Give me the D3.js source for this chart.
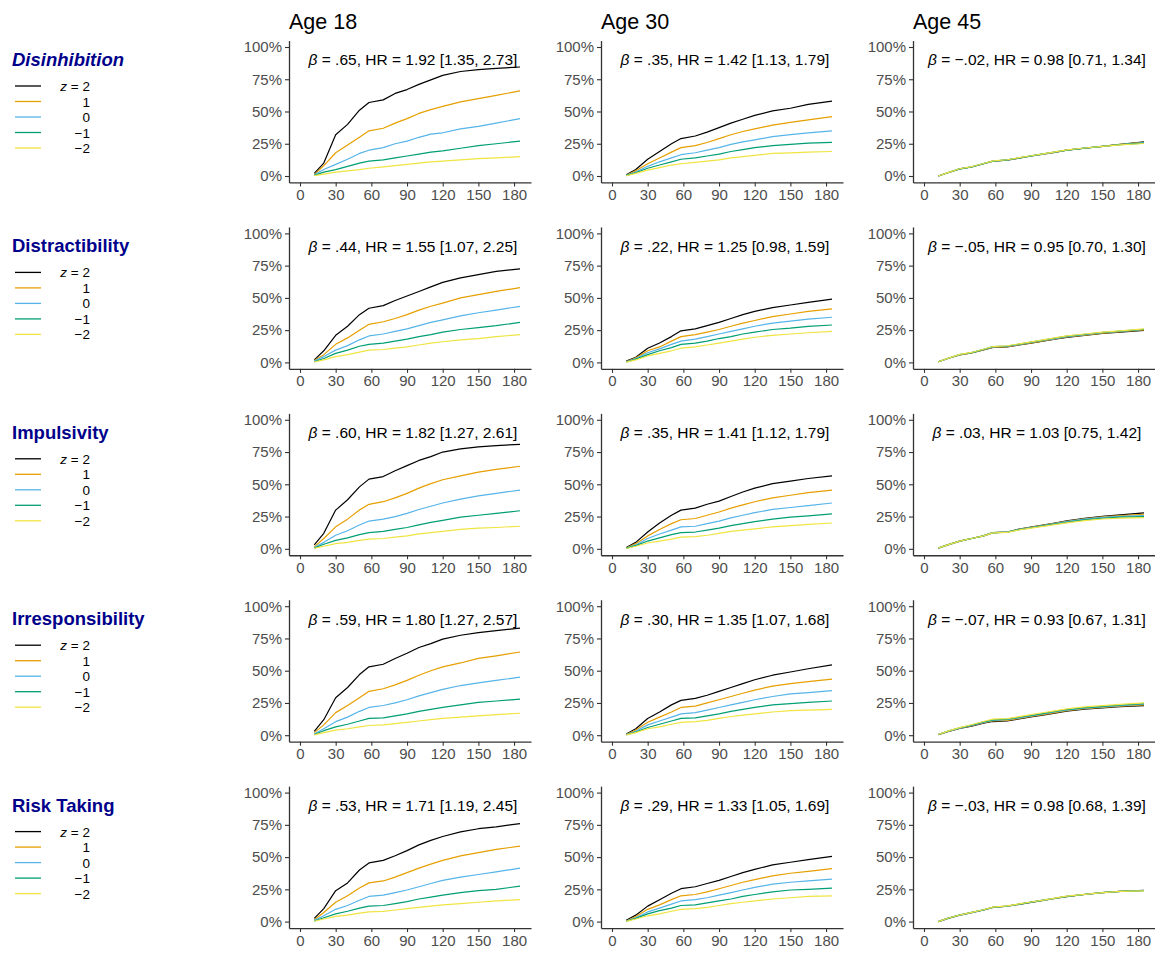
<!DOCTYPE html>
<html>
<head>
<meta charset="utf-8">
<script src="https://cdn.jsdelivr.net/npm/d3@7"></script>
<style>
  body { margin: 0; background: white; }
  text { font-family: "Liberation Sans", Arial, sans-serif; }
</style>
</head>
<body>
<script>
const days = [12, 20, 30, 40, 50, 58, 70, 80, 90, 100, 110, 120, 135, 150, 165, 185];

const traits = ["Disinhibition", "Distractibility", "Impulsivity", "Irresponsibility", "Risk Taking"];
const ages = ["Age 18", "Age 30", "Age 45"];
const zLevels = ["2", "1", "0", "\u22121", "\u22122"];
const zColors = ["#000000", "#E69F00", "#56B4E9", "#009E73", "#F0E442"];
const xTicks = [0, 30, 60, 90, 120, 150, 180];
const yTicks = [0, 0.25, 0.5, 0.75, 1];

// beta text per trait (rows) and age (columns)
const betas = [
  [".65", ".35", "\u2212.02"],
  [".44", ".22", "\u2212.05"],
  [".60", ".35", ".03"],
  [".59", ".30", "\u2212.07"],
  [".53", ".29", "\u2212.03"]
];
const hrs = [
  ["1.92 [1.35, 2.73]", "1.42 [1.13, 1.79]", "0.98 [0.71, 1.34]"],
  ["1.55 [1.07, 2.25]", "1.25 [0.98, 1.59]", "0.95 [0.70, 1.30]"],
  ["1.82 [1.27, 2.61]", "1.41 [1.12, 1.79]", "1.03 [0.75, 1.42]"],
  ["1.80 [1.27, 2.57]", "1.35 [1.07, 1.68]", "0.93 [0.67, 1.31]"],
  ["1.71 [1.19, 2.45]", "1.33 [1.05, 1.69]", "0.98 [0.68, 1.39]"]
];

// Curves in percent, one array per z level (2, 1, 0, -1, -2)
const disinhibition18 = [
  [2, 10, 32, 40, 51, 57, 59, 64, 67, 71, 74.5, 78, 81, 82.5, 83.5, 84.5],
  [1, 8, 18, 24, 30, 35, 37, 41, 44.5, 48.5, 51.5, 54, 57.5, 60, 62.5, 66],
  [1, 5, 9, 13, 17.5, 20, 22, 25, 27, 30, 32.5, 33.5, 36.5, 38.5, 41, 44.5],
  [0.5, 3, 5, 7.5, 10, 11.5, 12.5, 14, 15.5, 17, 18.5, 19.5, 21.5, 23.5, 25, 27],
  [0.3, 1.5, 3, 4, 5, 6, 7, 8, 9, 10, 11, 11.5, 12.5, 13.5, 14, 15]
];
const disinhibition30 = [
  [1, 5, 13, 19, 25, 29, 31, 34, 37.5, 41, 44, 47, 50.5, 52.5, 55.5, 58],
  [0.5, 4, 9.5, 14, 18.5, 22, 23.5, 26, 29, 32, 34.5, 36.5, 39.5, 41.5, 43.5, 46],
  [0.5, 3, 7.5, 11, 14, 16.5, 18, 20, 22, 24.5, 26.5, 28, 30.5, 32, 33.5, 35],
  [0.3, 2.5, 6, 8.5, 11, 13, 14, 15.5, 17, 19, 20.5, 22, 23.5, 24.5, 25.5, 26],
  [0.2, 2, 4.5, 6.5, 8.5, 9.5, 10.5, 11.5, 12.5, 14, 15, 16, 17.5, 18, 18.5, 19]
];
const disinhibition45 = [
  [0, 2.5, 5.5, 7, 9.5, 11.5, 12.3, 13.8, 15.5, 17, 18.3, 20, 21.5, 23, 24.5, 26.5],
  [0, 2.5, 5.5, 7, 9.5, 11.5, 12.4, 14, 15.5, 17, 18.5, 20, 21.5, 23, 24.5, 26],
  [0, 2.5, 5.5, 7, 9.5, 11.5, 12.5, 14, 15.5, 17, 18.5, 20, 21.6, 23, 24.4, 25.8],
  [0, 2.5, 5.5, 7.1, 9.6, 11.6, 12.5, 14.1, 15.6, 17.1, 18.6, 20.1, 21.6, 23, 24.3, 25.5],
  [0, 2.6, 5.6, 7.2, 9.7, 11.7, 12.6, 14.2, 15.7, 17.2, 18.7, 20.2, 21.7, 23, 24.2, 25.2]
];
const distractibility18 = [
  [2, 9, 21, 28, 37, 42, 44, 48, 51.5, 55, 58.5, 62, 65.5, 68, 70.5, 72.5],
  [1.5, 6, 14, 19, 25, 29.5, 31.5, 34, 37, 40.5, 43.5, 46, 50, 52.5, 55, 58],
  [1, 4.5, 9.5, 13, 17.5, 20.5, 22, 24, 26, 28.5, 31, 33, 36, 38.5, 40.5, 43.5],
  [0.5, 3, 7, 9.5, 12.5, 14, 15, 16.5, 18, 20, 21.5, 23.5, 25.5, 27, 28.5, 31],
  [0.3, 2, 4.5, 6, 8, 9.5, 10, 11, 12, 13.5, 15, 16, 17.5, 18.5, 20, 21.5]
];
const distractibility30 = [
  [1, 4, 11, 15, 20, 24.5, 26, 28.5, 31, 34, 37, 39.5, 42.5, 44.5, 46.5, 49],
  [0.5, 3.5, 9, 12, 16.5, 20, 21.5, 23.5, 25.5, 28, 30.5, 32.5, 35.5, 37.5, 39.5, 41.5],
  [0.5, 3, 7.5, 10.5, 14, 16.5, 18, 20, 22, 24, 26, 28, 30.5, 32, 33.5, 35],
  [0.3, 2.5, 6, 9, 11.5, 14, 15, 16.5, 18.5, 20, 22, 23.5, 25.5, 26.5, 28, 29],
  [0.2, 2, 5, 7, 9, 11, 12, 13.5, 15, 16.5, 18, 19.5, 21, 22, 23, 24]
];
const distractibility45 = [
  [0.5, 3, 5.8, 7.3, 9.7, 11.6, 12, 13.5, 15, 16.5, 18, 19.4, 21, 22.5, 23.5, 24.8],
  [0.5, 3, 5.9, 7.4, 9.8, 11.8, 12.2, 13.7, 15.2, 16.7, 18.2, 19.7, 21.2, 22.7, 23.8, 25.2],
  [0.5, 3, 6, 7.5, 10, 12, 12.5, 14, 15.5, 17, 18.5, 20, 21.5, 23, 24, 25.5],
  [0.5, 3.1, 6.1, 7.6, 10.1, 12.2, 12.7, 14.2, 15.7, 17.2, 18.8, 20.3, 21.8, 23.2, 24.2, 25.7],
  [0.5, 3.1, 6.2, 7.7, 10.2, 12.3, 12.9, 14.4, 15.9, 17.4, 19, 20.5, 22, 23.4, 24.5, 26]
];
const impulsivity18 = [
  [3, 12, 30, 38, 48, 54, 56, 60.5, 64.5, 68.5, 71.5, 75, 77.5, 79, 80, 81],
  [1.5, 8, 17, 23, 30, 34.5, 36.5, 39.5, 43, 47, 50.5, 53.5, 56.5, 59.5, 61.5, 64],
  [1, 5, 10.5, 14, 18.5, 21.5, 23, 25, 27.5, 30.5, 33, 35.5, 38.5, 41, 43, 45.5],
  [0.5, 3.5, 6.5, 8.5, 11, 12.5, 13.5, 15, 16.5, 18.5, 20.5, 22, 24.5, 26, 27.5, 29.5],
  [0.3, 2, 4, 5, 6.5, 7.5, 8, 9, 10, 11.5, 12.5, 13.5, 15, 16, 16.5, 17.5]
];
const impulsivity30 = [
  [1, 5, 13, 20, 26, 30, 31.5, 34.5, 37, 40.5, 44, 47, 50.5, 52.5, 54.5, 56.5],
  [0.5, 4, 10, 15, 19.5, 22.5, 23.5, 26, 28.5, 31.5, 34, 36.5, 39.5, 41.5, 43.5, 45.5],
  [0.5, 3, 8, 11.5, 14.5, 17, 17.5, 19.5, 21.5, 24, 26, 28, 30.5, 32, 33.5, 35.5],
  [0.3, 2.5, 6, 8.5, 11, 12.5, 13, 14.5, 16, 18, 19.5, 21, 23, 24.5, 25.5, 27],
  [0.2, 2, 4.5, 6, 7.5, 9, 9.5, 10.5, 12, 13.5, 14.5, 15.5, 17, 18, 19, 20]
];
const impulsivity45 = [
  [0.5, 3, 6, 8, 10, 12.5, 13, 15.2, 16.8, 18.4, 20, 21.6, 23.6, 25.2, 26.3, 27.8],
  [0.5, 3, 6, 8, 10, 12.5, 13, 15.1, 16.6, 18.2, 19.7, 21.2, 23.2, 24.7, 25.7, 26.8],
  [0.5, 3, 6, 8, 10, 12.5, 13, 15, 16.5, 18, 19.5, 21, 23, 24.3, 25.2, 25.8],
  [0.5, 3, 6, 8, 10, 12.4, 12.9, 14.8, 16.3, 17.7, 19.1, 20.5, 22.4, 23.7, 24.5, 25],
  [0.5, 3, 6, 8, 10, 12.3, 12.8, 14.6, 16, 17.4, 18.8, 20.1, 21.9, 23.1, 23.8, 24.2]
];
const irresponsibility18 = [
  [3, 12, 29, 37, 47, 53, 55, 59.5, 63.5, 68, 71, 74.5, 77.5, 79.5, 81, 83],
  [2, 8, 17.5, 23, 29, 34, 36, 39, 42.5, 46.5, 50, 53, 56, 59.5, 61.5, 64.5],
  [1, 5, 10.5, 14, 18.5, 21.5, 23, 25, 27.5, 30.5, 33, 35.5, 38.5, 40.5, 42.5, 45],
  [0.5, 3.5, 6.5, 8.5, 11, 13, 13.5, 15, 16.5, 18.5, 20, 21.5, 23.5, 25.5, 26.5, 28],
  [0.3, 2, 4, 5, 6.5, 7.5, 8, 9, 10, 11, 12, 13, 14, 15, 16, 17]
];
const irresponsibility30 = [
  [1, 5, 13, 18, 23.5, 27, 28.5, 31, 34, 37, 40, 43, 46.5, 49, 51.5, 54.5],
  [0.5, 4, 10, 14, 18, 21.5, 22.5, 25, 27.5, 30, 32.5, 35, 38, 40, 41.5, 43.5],
  [0.5, 3, 8, 11, 14, 16.5, 17.5, 19.5, 21.5, 23.5, 25.5, 27.5, 30, 32, 33, 34.5],
  [0.3, 2.5, 6, 8.5, 11, 13, 13.5, 15, 16.5, 18.5, 20, 21.5, 23.5, 24.5, 25.5, 26.5],
  [0.2, 2, 5, 6.5, 8.5, 10, 10.5, 11.5, 13, 14.5, 15.5, 16.5, 18, 19, 19.5, 20]
];
const irresponsibility45 = [
  [0.5, 2.8, 5.2, 7, 9.4, 10.6, 11, 12.6, 14.1, 15.6, 17.1, 18.6, 20.1, 21.1, 22.1, 23],
  [0.5, 2.9, 5.4, 7.3, 9.7, 11.1, 11.5, 13, 14.5, 16, 17.5, 19, 20.5, 21.5, 22.5, 23.5],
  [0.5, 3, 5.5, 7.5, 10, 11.5, 12, 13.5, 15, 16.5, 18, 19.5, 21, 22, 23, 24],
  [0.5, 3.1, 5.7, 7.8, 10.3, 11.9, 12.4, 13.9, 15.4, 16.9, 18.4, 19.9, 21.4, 22.4, 23.4, 24.5],
  [0.5, 3.2, 5.9, 8.1, 10.6, 12.4, 12.9, 14.4, 15.9, 17.4, 18.9, 20.4, 21.9, 22.9, 23.9, 25]
];
const riskTaking18 = [
  [2.5, 10, 24, 30, 40, 45.5, 47.5, 51, 55, 59.5, 63, 66, 69.5, 72, 73.5, 76],
  [1.5, 7, 15, 20, 26, 30, 31.5, 34.5, 38, 41.5, 44.5, 47.5, 51, 53.5, 56, 58.5],
  [1, 4.5, 9.5, 12.5, 16.5, 19.5, 20.5, 22.5, 24.5, 27, 29.5, 32, 34.5, 36.5, 38.5, 41.5],
  [0.5, 3, 6, 8, 10.5, 12, 12.5, 14, 15.5, 17.5, 19, 20.5, 22.5, 24, 25, 27.5],
  [0.3, 2, 4, 5, 6.5, 7.5, 8, 9, 10, 11, 12, 13, 14, 15, 16, 17]
];
const riskTaking30 = [
  [1, 5, 12, 17, 22, 25.5, 27, 29.5, 32, 35, 38, 40.5, 44, 46, 48, 50.5],
  [0.5, 4, 9.5, 13, 17, 20, 21, 23, 25.5, 28, 30.5, 32.5, 35.5, 37.5, 39, 41],
  [0.5, 3, 7.5, 10.5, 13.5, 16, 17, 18.5, 20.5, 22.5, 24.5, 26.5, 29, 30.5, 31.5, 33],
  [0.3, 2.5, 6, 8.5, 10.5, 12.5, 13, 14.5, 16, 17.5, 19.5, 21, 23, 24.5, 25, 26],
  [0.2, 2, 4.5, 6, 8, 9.5, 10, 11, 12.5, 14, 15, 16, 17.5, 18.5, 19.5, 20]
];
const riskTaking45 = [
  [0, 2.5, 5, 7, 9, 11, 11.9, 13.4, 14.9, 16.4, 17.9, 19.4, 21, 22.5, 23.5, 24.2],
  [0, 2.5, 5, 7, 9, 11, 12, 13.5, 15, 16.5, 18, 19.5, 21, 22.5, 23.5, 24.1],
  [0, 2.5, 5, 7, 9, 11, 12, 13.5, 15, 16.5, 18, 19.5, 21, 22.5, 23.5, 24],
  [0, 2.5, 5.1, 7.1, 9.1, 11.1, 12.1, 13.6, 15.1, 16.6, 18.1, 19.6, 21.1, 22.5, 23.5, 23.9],
  [0, 2.6, 5.1, 7.1, 9.2, 11.2, 12.2, 13.7, 15.2, 16.7, 18.2, 19.7, 21.1, 22.5, 23.4, 23.8]
];

const panels = [
  [disinhibition18, disinhibition30, disinhibition45],
  [distractibility18, distractibility30, distractibility45],
  [impulsivity18, impulsivity30, impulsivity45],
  [irresponsibility18, irresponsibility30, irresponsibility45],
  [riskTaking18, riskTaking30, riskTaking45]
];

// Layout
let width = 1155,
    height = 953;

let colX = [289, 601, 913];   // left edge of each panel (y axis line)
let panelW = 242;
let rowStep = 186.4;
let zeroY0 = 176;             // y of 0% in first row
let fullPx = 129;             // pixels from 0% to 100%

let svg = d3.select('body')
            .append('svg')
            .attr('width', width)
            .attr('height', height)
            .style('background', 'white');

// Column titles
ages.forEach((age, c) => {
  svg.append('text')
    .attr('x', colX[c])
    .attr('y', 29)
    .style('font-size', '21.5px')
    .attr('fill', '#000')
    .text(age);
});

let line = d3.line()
  .x(d => d[0])
  .y(d => d[1]);

traits.forEach((trait, r) => {
  let zeroY = zeroY0 + r * rowStep;

  // Row label
  svg.append('text')
    .attr('x', 12)
    .attr('y', zeroY - 110)
    .style('font-size', '18.5px')
    .style('font-weight', 'bold')
    .style('font-style', r === 0 ? 'italic' : 'normal')
    .attr('fill', '#00008B')
    .text(trait);

  // Legend
  zLevels.forEach((z, i) => {
    let ly = zeroY - 90 + i * 15.5;
    svg.append('line')
      .attr('x1', 15).attr('x2', 41)
      .attr('y1', ly).attr('y2', ly)
      .attr('stroke', zColors[i])
      .attr('stroke-width', 1.3);
    let t = svg.append('text')
      .attr('x', 90)
      .attr('y', ly + 5)
      .attr('text-anchor', 'end')
      .style('font-size', '13.5px')
      .attr('fill', '#000');
    if (i === 0) {
      t.append('tspan').style('font-style', 'italic').text('z');
      t.append('tspan').text(' = ' + z);
    } else {
      t.text(z);
    }
  });

  ages.forEach((age, c) => {
    let xscale = d3.scaleLinear()
      .domain([-9.25, 194.25])
      .range([colX[c], colX[c] + panelW]);

    let yscale = d3.scaleLinear()
      .domain([-0.05, 1.05])
      .range([zeroY + fullPx * 0.05, zeroY - fullPx * 1.05]);

    let g = svg.append('g');

    // Curves: black first, yellow on top
    panels[r][c].forEach((vals, i) => {
      let pts = days.map((d, k) => [xscale(d), yscale(vals[k] / 100)]);
      g.append('path')
        .datum(pts)
        .attr('d', line)
        .attr('fill', 'none')
        .attr('stroke', zColors[i])
        .attr('stroke-width', 1.2)
        .attr('stroke-linejoin', 'round');
    });

    // Axes
    let xaxis = g.append('g')
      .attr('transform', `translate(0,${yscale(-0.05)})`)
      .call(d3.axisBottom(xscale).tickValues(xTicks).tickSize(4).tickPadding(3).tickSizeOuter(0));

    let yaxis = g.append('g')
      .attr('transform', `translate(${colX[c]},0)`)
      .call(d3.axisLeft(yscale).tickValues(yTicks).tickSize(4).tickPadding(3)
        .tickFormat(d3.format('.0%')).tickSizeOuter(0));

    [xaxis, yaxis].forEach(a => {
      a.select('.domain').attr('stroke', '#333').attr('stroke-width', 1.3);
      a.selectAll('.tick line').attr('stroke', '#333').attr('stroke-width', 1.1);
      a.selectAll('.tick text')
        .attr('fill', '#4D4D4D')
        .style('font-size', '15px')
        .style('font-family', '"Liberation Sans", Arial, sans-serif');
    });

    // Annotation
    let ann = g.append('text')
      .attr('x', xscale(95))
      .attr('y', yscale(0.9))
      .attr('dy', '0.35em')
      .attr('text-anchor', 'middle')
      .style('font-size', '15.5px')
      .attr('fill', '#000');
    ann.append('tspan').style('font-style', 'italic').text('\u03B2');
    ann.append('tspan').text(' = ' + betas[r][c] + ', HR = ' + hrs[r][c]);
  });
});
</script>
</body>
</html>
